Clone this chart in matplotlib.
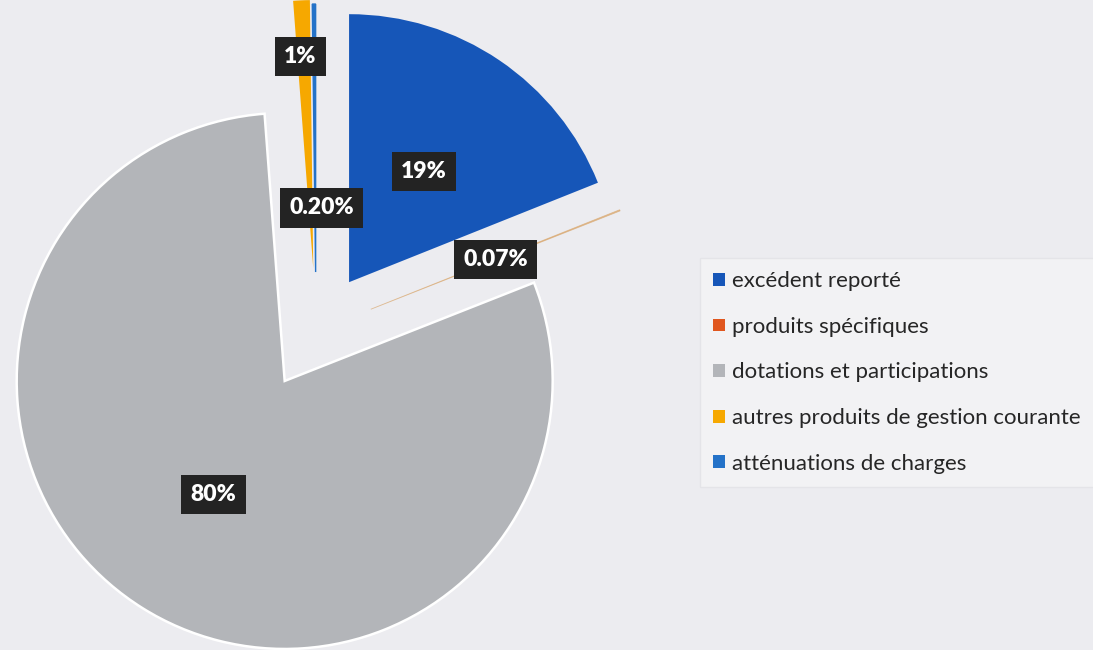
import matplotlib
matplotlib.use("Agg")
import matplotlib.pyplot as plt
from matplotlib.patches import Patch
import numpy as np

categories = ["excédent reporté", "produits spécifiques", "dotations et participations",
              "autres produits de gestion courante", "atténuations de charges"]
values = [19, 0.07, 80, 1, 0.20]
pct_labels = ["19%", "0.07%", "80%", "1%", "0.20%"]

colors = ["#1656b8", "#e0561e", "#b3b5b9", "#f6a800", "#2472c8"]
explode = [0.22, 0.22, 0.22, 0.235, 0.22]
label_dist = [0.5, 0.5, 0.5, 0.79, 0.24]
label_dang = [0, 0, 0, 1.0, -5.6]

W, H = 1093, 650
fig = plt.figure(figsize=(W / 100, H / 100), dpi=100)
bg = "#ececf0"
fig.patch.set_facecolor(bg)
ax = fig.add_axes([0, 0, 1, 1])
ax.set_facecolor(bg)

cx, cy, R = 316, 331, 268  # pixel centre / radius

wedges, _ = ax.pie(values, colors=colors, explode=explode, startangle=90,
                   counterclock=False, radius=1.0, normalize=True,
                   wedgeprops=dict(linewidth=0))
for i, w in enumerate(wedges):
    if i == 2:
        w.set_edgecolor("white")
        w.set_linewidth(1.8)
    elif values[i] < 0.5:
        w.set_edgecolor(colors[i])
        w.set_linewidth(1.0 if i == 4 else 0.6)
        if i == 1:
            w.set_edgecolor("#d9a870")
            w.set_facecolor("#d9a870")
            w.set_alpha(0.7)

ax.set_aspect("auto")
ax.set_xlim(-cx / R, (W - cx) / R)
ax.set_ylim(-(H - cy) / R, cy / R)
ax.axis("off")

for i, w in enumerate(wedges):
    th = np.deg2rad((w.theta1 + w.theta2) / 2 + label_dang[i])
    x0, y0 = w.center
    d = label_dist[i] * w.r
    ax.text(x0 + d * np.cos(th), y0 + d * np.sin(th), pct_labels[i],
            ha="center", va="center", color="white", fontsize=16.5,
            fontweight="heavy", family=["Lato", "DejaVu Sans"],
            bbox=dict(boxstyle="square,pad=0.4", fc="#232323", ec="none"),
            zorder=5)

handles = [Patch(facecolor=c, edgecolor="none") for c in colors]
leg = ax.legend(handles, categories, loc="upper left",
                bbox_to_anchor=(700 / W, 1 - 258 / H), bbox_transform=fig.transFigure,
                frameon=True, fancybox=False, borderaxespad=0,
                prop=dict(family=["Lato", "DejaVu Sans"], size=16),
                handlelength=0.52, handleheight=0.52, handletextpad=0.33,
                labelspacing=1.15, borderpad=0.6)
leg.get_frame().set_facecolor("#f4f4f6")
leg.get_frame().set_edgecolor("#e2e2e6")
for t in leg.get_texts():
    t.set_color("#262626")

fig.savefig("out.png", dpi=100, facecolor=fig.get_facecolor())
